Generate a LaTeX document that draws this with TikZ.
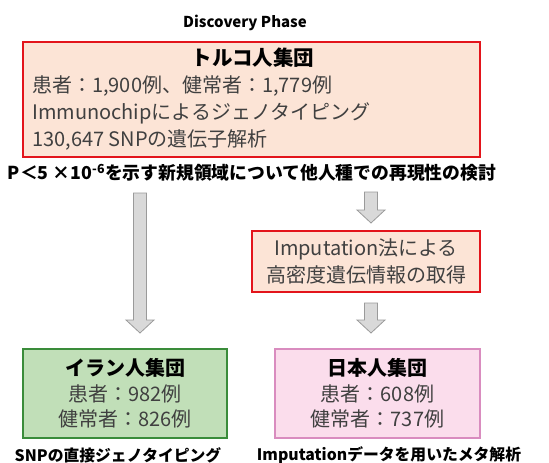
\documentclass[tikz,border=0pt]{standalone}
\usepackage{fontspec}
\setmainfont{Noto Sans CJK JP}
\usetikzlibrary{calc}
\definecolor{redline}{HTML}{E3141B}
\definecolor{salmon}{HTML}{FCE4D6}
\definecolor{greenfill}{HTML}{C1DFB8}
\definecolor{greenline}{HTML}{3A8C3A}
\definecolor{pinkfill}{HTML}{FBDDEC}
\definecolor{pinkline}{HTML}{D98CBF}
\definecolor{arrfill}{HTML}{D9D9D9}
\definecolor{arrline}{HTML}{9A9A9A}
\definecolor{txtgray}{HTML}{404040}
\tikzset{
  boxbase/.style={draw, line width=2pt, inner sep=0pt, outer sep=0pt, align=center},
  redbox/.style={boxbase, draw=redline, fill=salmon},
  greenbox/.style={boxbase, draw=greenline, fill=greenfill},
  pinkbox/.style={boxbase, draw=pinkline, fill=pinkfill},
  body/.style={font=\fontsize{20}{27}\selectfont, text=txtgray},
  ttl/.style={font=\bfseries\fontsize{20.5}{26}\selectfont, text=black},
  label/.style={font=\bfseries\fontsize{15.8}{18}\selectfont, text=black, inner sep=0pt},
  barrow/.style={fill=arrfill, draw=arrline, line width=0.8pt, line join=miter}
}
\newcommand\blockarr[2]{%
  \path let \p1=(#1), \p2=(#2) in [barrow]
    (\x1-6.5pt,\y1) -- (\x1-6.5pt,\y2+13pt) -- (\x1-14pt,\y2+13pt) -- (\x1,\y2)
    -- (\x1+14pt,\y2+13pt) -- (\x1+6.5pt,\y2+13pt) -- (\x1+6.5pt,\y1) -- cycle;}
\begin{document}
\begin{tikzpicture}[x=1pt,y=-1pt]
\useasboundingbox (0,0) rectangle (549,463);
\node[label, font=\bfseries\fontsize{15}{18}\selectfont] (phase) at (245,23) {Discovery Phase};
\node[redbox, minimum width=457pt, minimum height=115pt] (turk) at (251.5,99.5) {};
\node[ttl, inner sep=0pt] (turkt) at (253,58) {トルコ人集団};
\node[body, anchor=west, align=left, inner sep=0pt] (turkb) at (32,113)
  {患者：1,900例、健常者：1,779例\\Immunochipによるジェノタイピング\\130,647 SNPの遺伝子解析};
\node[font=\bfseries\fontsize{17.8}{22}\selectfont, inner sep=0pt] (pq) at (252,173)
  {P＜5 ×10\textsuperscript{-6}を示す新規領域について他人種での再現性の検討};
\node[redbox, body, minimum width=228pt, minimum height=61pt] (imp) at (366,261.5)
  {Imputation法による\\高密度遺伝情報の取得};
\node[greenbox, body, minimum width=204pt, minimum height=89pt, font=\fontsize{20}{25.5}\selectfont] (iran) at (125,393.5)
  {{\bfseries\color{black}イラン人集団}\\患者：982例\\健常者：826例};
\node[pinkbox, body, minimum width=205pt, minimum height=89pt, font=\fontsize{20}{25.5}\selectfont] (japan) at (377.5,393.5)
  {{\bfseries\color{black}日本人集団}\\患者：608例\\健常者：737例};
\node[label] (lab1) at (118,455) {SNPの直接ジェノタイピング};
\node[label] (lab2) at (389,455) {Imputationデータを用いたメタ解析};
\coordinate (a1s) at (140,193);
\coordinate (a1e) at (140,333);
\coordinate (a2s) at (371,192);
\coordinate (a2e) at (371,223);
\coordinate (a3s) at (371,303);
\coordinate (a3e) at (371,333);
\blockarr{a1s}{a1e}
\blockarr{a2s}{a2e}
\blockarr{a3s}{a3e}
\end{tikzpicture}
\end{document}
